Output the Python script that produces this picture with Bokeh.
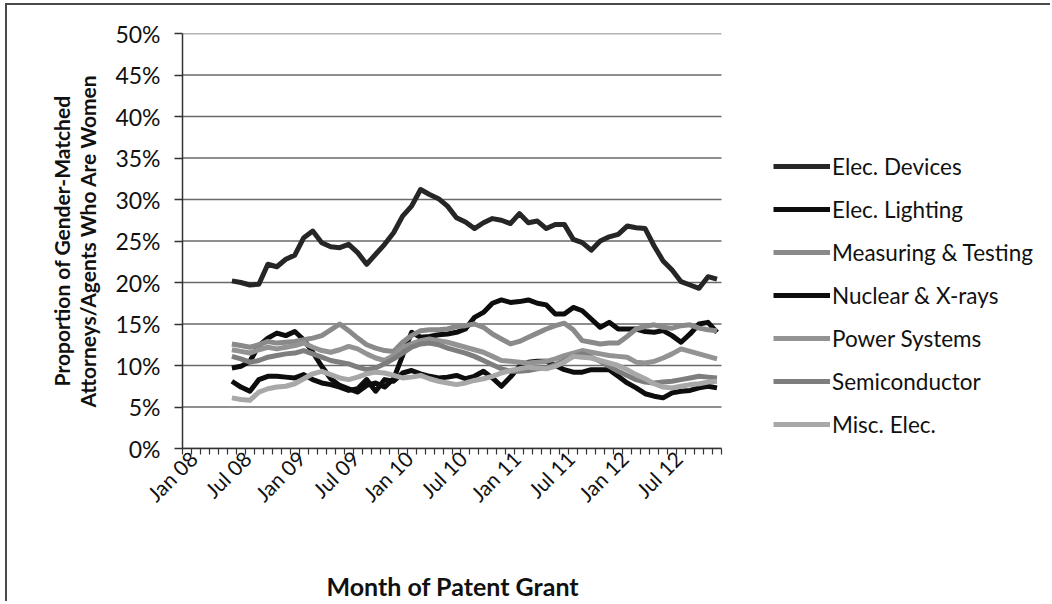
from bokeh.plotting import figure
from bokeh.models import Range1d, FixedTicker, Legend, LegendItem, PrintfTickFormatter, Title
from bokeh.embed import file_html
from bokeh.resources import INLINE
import math

# ---- categories ----
MONTH_NAMES = ["Jan", "Feb", "Mar", "Apr", "May", "Jun",
               "Jul", "Aug", "Sep", "Oct", "Nov", "Dec"]
months = [f"{m} {y:02d}" for y in range(8, 13) for m in MONTH_NAMES]
first_month = "Jun 08"
labelled_months = ["Jan 08", "Jul 08", "Jan 09", "Jul 09", "Jan 10",
                   "Jul 10", "Jan 11", "Jul 11", "Jan 12", "Jul 12"]
y_ticks = [0, 5, 10, 15, 20, 25, 30, 35, 40, 45, 50]

# ---- series (percent), Jun 08 .. Dec 12 ----
elec_devices = [20.2, 20.0, 19.7, 19.8, 22.2, 21.9, 22.8,
                23.3, 25.4, 26.2, 24.8, 24.3, 24.2, 24.6, 23.6, 22.2, 23.4, 24.6, 26.0,
                28.0, 29.2, 31.2, 30.6, 30.1, 29.2, 27.8, 27.3, 26.5, 27.2, 27.7, 27.5,
                27.1, 28.3, 27.2, 27.4, 26.5, 27.0, 27.0, 25.2, 24.8, 23.9, 25.0, 25.5,
                25.8, 26.8, 26.6, 26.5, 24.4, 22.6, 21.5, 20.1, 19.7, 19.3, 20.7, 20.4]
elec_lighting = [9.7, 9.9, 10.5, 12.4, 13.3, 13.9, 13.6,
                 14.1, 13.1, 11.6, 9.9, 8.4, 7.6, 7.2, 6.8, 7.6, 7.9, 7.4, 8.4,
                 11.2, 14.0, 13.4, 13.5, 13.7, 13.8, 14.0, 14.4, 15.8, 16.4, 17.5, 17.9,
                 17.6, 17.7, 17.9, 17.5, 17.3, 16.2, 16.2, 17.0, 16.6, 15.6, 14.6, 15.2,
                 14.4, 14.4, 14.4, 14.1, 14.0, 14.2, 13.6, 12.8, 13.8, 15.0, 15.2, 14.0]
measuring = [12.6, 12.4, 12.2, 12.5, 12.9, 12.7, 12.8,
             12.9, 13.1, 13.3, 13.6, 14.3, 15.0, 14.2, 13.3, 12.5, 12.1, 11.8, 11.7,
             12.8, 13.6, 14.2, 14.3, 14.3, 14.4, 14.7, 14.8, 15.0, 14.6, 13.8, 13.2,
             12.6, 12.9, 13.4, 13.9, 14.4, 14.8, 15.1, 14.3, 13.0, 12.8, 12.6, 12.7,
             12.7, 13.5, 14.4, 14.7, 14.9, 14.6, 14.5, 14.8, 14.9, 14.5, 14.3, 14.2]
nuclear = [8.1, 7.4, 6.9, 8.3, 8.7, 8.7, 8.6,
           8.5, 8.9, 8.3, 7.9, 7.7, 7.4, 7.0, 7.2, 8.3, 6.9, 8.3, 8.1,
           9.1, 9.4, 9.0, 8.7, 8.5, 8.6, 8.8, 8.4, 8.7, 9.3, 8.5, 7.5,
           8.6, 9.9, 10.4, 10.5, 10.5, 10.0, 9.5, 9.2, 9.2, 9.5, 9.5, 9.5,
           8.7, 7.9, 7.3, 6.6, 6.3, 6.1, 6.7, 6.9, 7.0, 7.3, 7.5, 7.3]
power = [11.9, 11.7, 11.5, 11.9, 12.2, 12.0, 12.2,
         12.4, 12.7, 12.2, 11.8, 11.6, 11.9, 12.3, 12.0, 11.4, 10.9, 10.6, 11.2,
         12.2, 12.6, 13.0, 13.2, 13.0, 12.8, 12.5, 12.2, 11.9, 11.6, 11.1, 10.6,
         10.5, 10.4, 10.3, 10.4, 10.5, 10.8, 11.2, 11.5, 11.8, 11.6, 11.4, 11.2,
         11.1, 11.0, 10.4, 10.3, 10.5, 10.9, 11.4, 12.0, 11.7, 11.4, 11.1, 10.8]
semiconductor = [11.1, 10.8, 10.4, 10.6, 11.0, 11.2, 11.4,
                 11.5, 11.8, 11.4, 11.0, 10.6, 10.4, 10.2, 9.8, 9.5, 9.7, 10.2, 10.8,
                 11.5, 12.2, 12.6, 12.7, 12.5, 12.1, 11.8, 11.5, 11.1, 10.6, 10.1, 9.6,
                 9.3, 9.3, 9.4, 9.6, 9.7, 10.1, 10.6, 11.1, 11.4, 11.0, 10.5, 9.9,
                 9.3, 8.8, 8.3, 8.0, 7.9, 8.0, 8.1, 8.3, 8.5, 8.7, 8.6, 8.5]
misc_elec = [6.1, 5.9, 5.8, 6.8, 7.2, 7.4, 7.5,
             7.8, 8.4, 9.0, 9.3, 8.9, 8.5, 8.3, 8.6, 9.0, 9.2, 9.1, 8.8,
             8.5, 8.6, 8.8, 8.4, 8.1, 7.9, 7.7, 7.9, 8.2, 8.4, 8.7, 9.1,
             9.4, 9.6, 9.8, 9.7, 9.6, 9.9, 10.4, 11.1, 11.0, 10.9, 10.6, 10.3,
             10.0, 9.5, 8.9, 8.4, 7.8, 7.4, 7.3, 7.5, 7.7, 7.8, 8.0, 8.1]

series_names = ["Elec. Devices", "Elec. Lighting", "Measuring & Testing",
                "Nuclear & X-rays", "Power Systems", "Semiconductor", "Misc. Elec."]
series_values = [elec_devices, elec_lighting, measuring, nuclear,
                 power, semiconductor, misc_elec]
series_colors = ["#262626", "#0d0d0d", "#8a8a8a", "#0d0d0d",
                 "#939393", "#7e7e7e", "#a8a8a8"]

FONT = "Lato"

# layout (pixels)
PLOT_W = 539          # width of the data area
FRAME_W = 866         # frame incl. legend area on the right
FRAME_H = 415

start = months.index(first_month)
n_months = len(months)

p = figure(frame_width=FRAME_W, frame_height=FRAME_H,
           min_border_left=175, min_border_right=2,
           min_border_top=28, min_border_bottom=0,
           x_range=Range1d(0, n_months * FRAME_W / PLOT_W), y_range=Range1d(0, 50),
           output_backend="svg", toolbar_location=None,
           background_fill_color="white", border_fill_color="white")
p.styles = {"border-left": "2px solid #4a4a4a", "border-top": "2px solid #4a4a4a",
            "margin-left": "5px", "margin-top": "3px"}
p.outline_line_color = None
p.xgrid.grid_line_color = None
p.ygrid.grid_line_color = None

# horizontal gridlines across the data area only
p.segment(x0=[0] * len(y_ticks), y0=y_ticks, x1=[n_months] * len(y_ticks), y1=y_ticks,
          line_color="#6a6a6a", line_width=1.5)

renderers = []
for vals, col in zip(series_values, series_colors):
    xs = [start + k + 0.5 for k in range(len(vals))]
    r = p.line(xs, vals, line_color=col, line_width=5, line_join="round")
    renderers.append(r)

# y axis
p.yaxis.ticker = FixedTicker(ticks=y_ticks)
p.yaxis.formatter = PrintfTickFormatter(format="%d%%")
p.yaxis.major_tick_out = 8
p.yaxis.major_tick_in = 0
p.yaxis.minor_tick_line_color = None
p.yaxis.axis_line_color = "#333333"
p.yaxis.axis_line_width = 1.5
p.yaxis.major_tick_line_color = "#333333"
p.yaxis.major_tick_line_width = 1.5
p.yaxis.major_label_text_font = FONT
p.yaxis.major_label_text_font_size = "23px"
p.yaxis.major_label_text_color = "#111111"
p.yaxis.major_label_standoff = 14
p.yaxis.axis_label = "Proportion of Gender-Matched\nAttorneys/Agents Who Are Women"
p.yaxis.axis_label_text_font = FONT
p.yaxis.axis_label_text_font_style = "bold"
p.yaxis.axis_label_text_font_size = "21px"
p.yaxis.axis_label_text_line_height = 1.05
p.yaxis.axis_label_standoff = 12
p.yaxis.axis_label_text_color = "#111111"

# x axis (labels sit just right of their month, as in the original)
label_pos = [months.index(m) + 1.2 for m in labelled_months]
p.xaxis.bounds = (0, n_months)
p.xaxis.ticker = FixedTicker(ticks=label_pos, minor_ticks=list(range(n_months + 1)))
p.xaxis.major_label_overrides = {pos: m for pos, m in zip(label_pos, labelled_months)}
p.xaxis.major_tick_out = 0
p.xaxis.major_tick_in = 0
p.xaxis.minor_tick_out = 6
p.xaxis.minor_tick_in = 0
p.xaxis.minor_tick_line_color = "#333333"
p.xaxis.minor_tick_line_width = 1.2
p.xaxis.axis_line_color = "#333333"
p.xaxis.axis_line_width = 1.5
p.xaxis.major_label_orientation = math.pi / 4
p.xaxis.major_label_text_font = FONT
p.xaxis.major_label_text_font_size = "21px"
p.xaxis.major_label_text_color = "#111111"
p.xaxis.major_label_standoff = 0

# spacer between tick labels and the x-axis title
spacer = Title(text=" ", text_font_size="2px", standoff=46)
p.add_layout(spacer, "below")
xtitle = Title(text="Month of Patent Grant", align="left", offset=144,
               text_font=FONT, text_font_style="bold", text_font_size="25px",
               text_color="#111111", standoff=2)
p.add_layout(xtitle, "below")

legend = Legend(items=[LegendItem(label=n, renderers=[r]) for n, r in zip(series_names, renderers)],
                location=(591, 10))
legend.border_line_color = None
legend.background_fill_alpha = 0
legend.padding = 0
legend.margin = 0
legend.spacing = 15
legend.label_height = 28
legend.glyph_height = 28
legend.glyph_width = 57
legend.label_standoff = 2
legend.label_text_font = FONT
legend.label_text_font_size = "22.5px"
legend.label_text_color = "#111111"
p.add_layout(legend)

open("out.html", "w").write(file_html(p, INLINE))
